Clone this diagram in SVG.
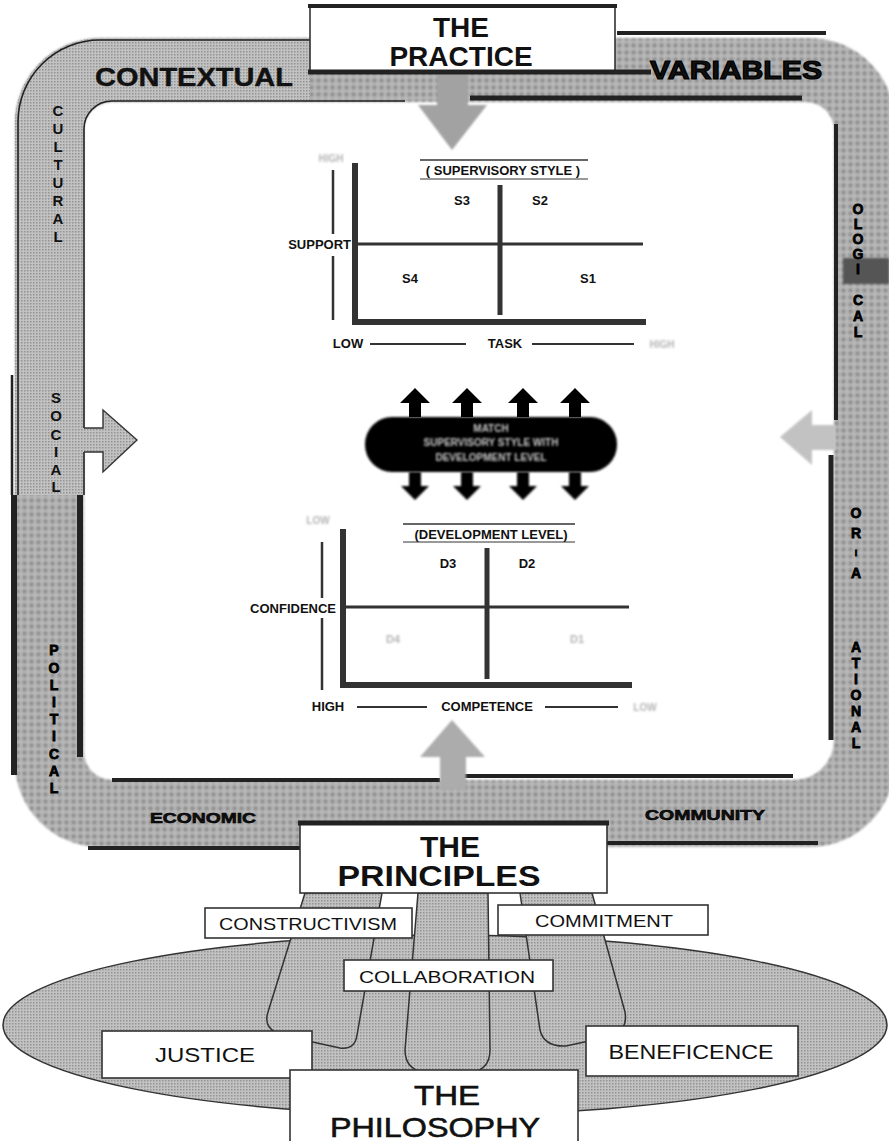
<svg xmlns="http://www.w3.org/2000/svg" width="889" height="1141" viewBox="0 0 889 1141">
<defs>
<pattern id="ht" width="7" height="7" patternUnits="userSpaceOnUse"><rect width="7" height="7" fill="#bababa"/><circle cx="3.5" cy="3.5" r="2.4" fill="#8e8e8e"/></pattern>
<pattern id="fine" width="3" height="3" patternUnits="userSpaceOnUse"><rect width="3" height="3" fill="#c2c2c2"/><rect width="1.5" height="1.5" fill="#939393"/></pattern>
<clipPath id="tl"><rect x="0" y="0" width="310" height="495"/></clipPath>
<filter id="blur" x="-20%" y="-50%" width="140%" height="200%"><feGaussianBlur stdDeviation="0.9"/></filter>
<filter id="soft" x="-20%" y="-20%" width="140%" height="140%"><feGaussianBlur stdDeviation="1.3"/></filter>
</defs>
<style>
.t{font-family:"Liberation Sans",Arial,Helvetica,sans-serif;fill:#111}
.b{font-weight:bold}
.bar{stroke:#222;fill:none;stroke-linecap:butt}
.box{fill:#fff;stroke:#333;stroke-width:1.6}
.vl{font-family:"Liberation Sans",Arial,sans-serif;font-weight:bold;font-size:15px;fill:#111;text-anchor:middle}
.vh{font-family:"Liberation Sans",Arial,sans-serif;font-weight:bold;font-size:14px;fill:#000;stroke:#000;stroke-width:0.8;text-anchor:middle}
.fade{fill:#b5b5b5;filter:url(#blur)}
.lbl{font-family:"Liberation Sans",Arial,sans-serif;font-weight:bold;font-size:13px;fill:#111}
.axis{stroke:#333;fill:none}
</style>
<rect width="889" height="1141" fill="#fff"/>

<!-- contextual variables band -->
<g id="context-band">
<path d="M100,38 H810 A85,85 0 0 1 895,123 V762 A85,85 0 0 1 810,847 H100 A85,85 0 0 1 15,762 V123 A85,85 0 0 1 100,38 Z M112,102 H806 A28,28 0 0 1 834,130 V740 A40,40 0 0 1 794,780 H112 A28,28 0 0 1 84,752 V130 A28,28 0 0 1 112,102 Z" fill="url(#ht)" fill-rule="evenodd" filter="url(#soft)"/>
<path clip-path="url(#tl)" d="M100,38 H810 A85,85 0 0 1 895,123 V762 A85,85 0 0 1 810,847 H100 A85,85 0 0 1 15,762 V123 A85,85 0 0 1 100,38 Z M112,102 H806 A28,28 0 0 1 834,130 V740 A40,40 0 0 1 794,780 H112 A28,28 0 0 1 84,752 V130 A28,28 0 0 1 112,102 Z" fill="url(#fine)" fill-rule="evenodd"/>
<path d="M310,40 H100 A82,82 0 0 0 18,122 V495" class="bar" stroke-width="1.6"/>
<path d="M405,101 H112 A28,28 0 0 0 84,129 V428 M84,452 V495" class="bar" stroke-width="1.6"/>
<line x1="12" y1="375" x2="12" y2="495" class="bar" stroke-width="2.5"/>
<line x1="14" y1="495" x2="14" y2="775" class="bar" stroke-width="6"/>
<line x1="80" y1="495" x2="80" y2="757" class="bar" stroke-width="6"/>
<line x1="617" y1="33" x2="826" y2="33" class="bar" stroke-width="4"/>
<line x1="470" y1="98" x2="802" y2="98" class="bar" stroke-width="5"/>
<line x1="836" y1="124" x2="836" y2="420" class="bar" stroke-width="4"/>
<line x1="831" y1="455" x2="831" y2="740" class="bar" stroke-width="5"/>
<line x1="112" y1="780" x2="440" y2="780" class="bar" stroke-width="4"/>
<line x1="460" y1="776" x2="793" y2="776" class="bar" stroke-width="4"/>
<line x1="88" y1="848" x2="300" y2="848" class="bar" stroke-width="4"/>
<line x1="607" y1="843" x2="818" y2="843" class="bar" stroke-width="4"/>
<rect x="843" y="258" width="46" height="26" fill="#555" filter="url(#soft)"/>
<text class="t b" x="95" y="86" font-size="25" textLength="198" lengthAdjust="spacingAndGlyphs" stroke="#111" stroke-width="0.4">CONTEXTUAL</text>
<text class="t b" x="650" y="79" font-size="25" textLength="172" lengthAdjust="spacingAndGlyphs" stroke="#000" stroke-width="1.2">VARIABLES</text>
<text class="vl" font-size="14"><tspan x="58" y="116">C</tspan><tspan x="58" y="134">U</tspan><tspan x="58" y="152">L</tspan><tspan x="58" y="170">T</tspan><tspan x="58" y="188">U</tspan><tspan x="58" y="206">R</tspan><tspan x="58" y="224">A</tspan><tspan x="58" y="242">L</tspan></text>
<text class="vl"><tspan x="56" y="403">S</tspan><tspan x="56" y="421">O</tspan><tspan x="56" y="440">C</tspan><tspan x="56" y="457">I</tspan><tspan x="56" y="475">A</tspan><tspan x="56" y="492">L</tspan></text>
<text class="vh"><tspan x="54" y="655">P</tspan><tspan x="54" y="673">O</tspan><tspan x="54" y="690">L</tspan><tspan x="54" y="707">I</tspan><tspan x="54" y="724">T</tspan><tspan x="54" y="741">I</tspan><tspan x="54" y="759">C</tspan><tspan x="54" y="776">A</tspan><tspan x="54" y="793">L</tspan></text>
<text class="vh" font-size="12"><tspan x="858" y="214">O</tspan><tspan x="858" y="229">L</tspan><tspan x="858" y="244">O</tspan><tspan x="858" y="259">G</tspan><tspan x="858" y="274">I</tspan><tspan x="858" y="305">C</tspan><tspan x="858" y="321">A</tspan><tspan x="858" y="337">L</tspan></text>
<text class="vh" font-size="13"><tspan x="856" y="518">O</tspan><tspan x="856" y="538">R</tspan><tspan x="856" y="556" font-size="9">I</tspan><tspan x="856" y="578">A</tspan><tspan x="856" y="652">A</tspan><tspan x="856" y="668">T</tspan><tspan x="856" y="684">I</tspan><tspan x="856" y="700">O</tspan><tspan x="856" y="716">N</tspan><tspan x="856" y="732">A</tspan><tspan x="856" y="748">L</tspan></text>
<text class="t b" x="150" y="823" font-size="15" textLength="106" lengthAdjust="spacingAndGlyphs" stroke="#000" stroke-width="0.6">ECONOMIC</text>
<text class="t b" x="645" y="820" font-size="15" textLength="120" lengthAdjust="spacingAndGlyphs" stroke="#000" stroke-width="0.6">COMMUNITY</text>
</g>

<!-- connectors (arrows) -->
<g id="connectors">
<path d="M437,72 H468 V105 H487 L452,150 L418,105 H437 Z" fill="#a2a2a2" filter="url(#soft)"/>
<path d="M84,428 H103 V410 L137,440 L103,472 V452 H84" fill="url(#fine)" stroke="#333" stroke-width="1.4"/>
<path d="M836,425 H812 V410 L780,437 L812,465 V450 H836" fill="#c2c2c2" filter="url(#soft)"/>
<path d="M440,790 V757 H420 L452,720 L485,757 H466 V790 Z" fill="#acacac" filter="url(#soft)"/>
</g>

<!-- The practice -->
<g id="practice">
<rect x="310" y="6" width="305" height="66" class="box" stroke="#222" stroke-width="2"/>
<line x1="308" y1="6" x2="617" y2="6" class="bar" stroke-width="4"/>
<line x1="308" y1="72" x2="651" y2="72" class="bar" stroke-width="5"/>
<text class="t b" x="461" y="37" font-size="28" text-anchor="middle">THE</text>
<text class="t b" x="461" y="66" font-size="28" text-anchor="middle">PRACTICE</text>
</g>

<!-- supervisory style chart -->
<g id="supervisory-style">
<path d="M355,163 V322 H646" class="axis" stroke-width="6"/>
<line x1="333" y1="170" x2="333" y2="234" class="axis" stroke-width="2.5"/>
<line x1="333" y1="256" x2="333" y2="320" class="axis" stroke-width="2.5"/>
<line x1="355" y1="244" x2="643" y2="244" class="axis" stroke-width="3"/>
<line x1="500" y1="185" x2="500" y2="315" class="axis" stroke-width="5"/>
<text class="t b fade" x="331" y="162" font-size="10" text-anchor="middle">HIGH</text>
<text class="lbl" x="351" y="249" text-anchor="end">SUPPORT</text>
<line x1="420" y1="160" x2="588" y2="160" class="axis" stroke-width="1.5"/>
<text class="lbl" x="503" y="175" text-anchor="middle" font-size="13">( SUPERVISORY STYLE )</text>
<line x1="420" y1="179" x2="588" y2="179" class="axis" stroke-width="1"/>
<text class="lbl" x="462" y="205" text-anchor="middle">S3</text>
<text class="lbl" x="540" y="205" text-anchor="middle">S2</text>
<text class="lbl" x="410" y="283" text-anchor="middle">S4</text>
<text class="lbl" x="588" y="283" text-anchor="middle">S1</text>
<text class="lbl" x="348" y="348" text-anchor="middle">LOW</text>
<line x1="370" y1="344" x2="466" y2="344" class="axis" stroke-width="1.8"/>
<text class="lbl" x="505" y="348" text-anchor="middle">TASK</text>
<line x1="532" y1="344" x2="634" y2="344" class="axis" stroke-width="1.8"/>
<text class="t b fade" x="662" y="348" font-size="10" text-anchor="middle">HIGH</text>
</g>

<!-- match pill -->
<g id="match">
<rect x="365" y="417" width="252" height="55" rx="27" fill="#000" filter="url(#blur)"/>
<g fill="#000">
<path d="M409,417 V403 H400 L415,388 L430,403 H421 V417 Z"/>
<path d="M461,417 V403 H452 L467,388 L482,403 H473 V417 Z"/>
<path d="M517,417 V403 H508 L523,388 L538,403 H529 V417 Z"/>
<path d="M569,417 V403 H560 L575,388 L590,403 H581 V417 Z"/>
</g>
<g fill="#000" filter="url(#blur)">
<path d="M409,472 V486 H401 L415,500 L429,486 H421 V472 Z"/>
<path d="M461,472 V486 H453 L467,500 L481,486 H473 V472 Z"/>
<path d="M517,472 V486 H509 L523,500 L537,486 H529 V472 Z"/>
<path d="M569,472 V486 H561 L575,500 L589,486 H581 V472 Z"/>
</g>
<g class="t b" font-size="10" text-anchor="middle" filter="url(#blur)">
<text x="491" y="432" fill="#c8c8c8">MATCH</text>
<text x="491" y="446" fill="#c8c8c8">SUPERVISORY STYLE WITH</text>
<text x="491" y="461" fill="#c8c8c8">DEVELOPMENT LEVEL</text>
</g>
</g>

<!-- development level chart -->
<g id="development-level">
<path d="M343,529 V685 H632" class="axis" stroke-width="6"/>
<line x1="322" y1="542" x2="322" y2="598" class="axis" stroke-width="2.5"/>
<line x1="322" y1="618" x2="322" y2="690" class="axis" stroke-width="2.5"/>
<line x1="343" y1="607" x2="629" y2="607" class="axis" stroke-width="3"/>
<line x1="487" y1="548" x2="487" y2="679" class="axis" stroke-width="5"/>
<text class="t b fade" x="318" y="524" font-size="10" text-anchor="middle">LOW</text>
<text class="lbl" x="336" y="613" text-anchor="end">CONFIDENCE</text>
<line x1="403" y1="524" x2="575" y2="524" class="axis" stroke-width="1.5"/>
<text class="lbl" x="491" y="539" text-anchor="middle">(DEVELOPMENT LEVEL)</text>
<line x1="403" y1="542" x2="575" y2="542" class="axis" stroke-width="1"/>
<text class="lbl" x="448" y="568" text-anchor="middle">D3</text>
<text class="lbl" x="527" y="568" text-anchor="middle">D2</text>
<text class="t b fade" x="393" y="643" font-size="11" text-anchor="middle">D4</text>
<text class="t b fade" x="577" y="643" font-size="11" text-anchor="middle">D1</text>
<text class="lbl" x="328" y="711" text-anchor="middle">HIGH</text>
<line x1="357" y1="707" x2="427" y2="707" class="axis" stroke-width="1.8"/>
<text class="lbl" x="487" y="711" text-anchor="middle">COMPETENCE</text>
<line x1="545" y1="707" x2="618" y2="707" class="axis" stroke-width="1.8"/>
<text class="t b fade" x="645" y="711" font-size="10" text-anchor="middle">LOW</text>
</g>

<!-- philosophy base -->
<g id="philosophy-base">
<ellipse cx="445" cy="1025" rx="442" ry="90" fill="url(#fine)" stroke="#333" stroke-width="1.5"/>
</g>
<g id="legs">
<path d="M305,893 L268,1012 Q262,1030 285,1036 L340,1048 Q355,1050 357,1035 L382,893 Z" fill="url(#fine)" stroke="#333" stroke-width="1.5"/>
<path d="M418,893 L405,1050 Q405,1072 430,1073 L466,1073 Q490,1072 490,1050 L488,893 Z" fill="url(#fine)" stroke="#333" stroke-width="1.5"/>
<path d="M520,893 L540,1030 Q544,1047 566,1046 L612,1036 Q628,1030 625,1012 L592,893 Z" fill="url(#fine)" stroke="#333" stroke-width="1.5"/>
</g>

<g id="principles">
<rect x="300" y="823" width="307" height="70" class="box" stroke="#222" stroke-width="2"/>
<line x1="298" y1="823" x2="609" y2="823" class="bar" stroke-width="5"/>
<text class="t b" x="450" y="857" font-size="29" text-anchor="middle" textLength="60" lengthAdjust="spacingAndGlyphs">THE</text>
<text class="t b" x="439" y="886" font-size="29" text-anchor="middle" textLength="203" lengthAdjust="spacingAndGlyphs">PRINCIPLES</text>
</g>

<g id="constructivism">
<rect x="205" y="908" width="207" height="30" class="box"/>
<text class="t" x="308" y="930" font-size="17" text-anchor="middle" textLength="178" lengthAdjust="spacingAndGlyphs">CONSTRUCTIVISM</text>
</g>
<g id="commitment">
<rect x="498" y="905" width="210" height="30" class="box"/>
<text class="t" x="604" y="927" font-size="17" text-anchor="middle" textLength="138" lengthAdjust="spacingAndGlyphs">COMMITMENT</text>
</g>
<g id="collaboration">
<rect x="344" y="960" width="209" height="31" class="box"/>
<text class="t" x="447" y="983" font-size="17" text-anchor="middle" textLength="176" lengthAdjust="spacingAndGlyphs">COLLABORATION</text>
</g>
<g id="justice">
<rect x="102" y="1031" width="210" height="47" class="box"/>
<text class="t" x="205" y="1062" font-size="21" text-anchor="middle" textLength="100" lengthAdjust="spacingAndGlyphs">JUSTICE</text>
</g>
<g id="beneficence">
<rect x="586" y="1026" width="212" height="50" class="box"/>
<text class="t" x="691" y="1059" font-size="21" text-anchor="middle" textLength="165" lengthAdjust="spacingAndGlyphs">BENEFICENCE</text>
</g>
<g id="philosophy">
<rect x="290" y="1070" width="288" height="80" class="box" stroke-width="2"/>
<text class="t" x="447" y="1105" font-size="28" text-anchor="middle" stroke="#111" stroke-width="0.6" textLength="66" lengthAdjust="spacingAndGlyphs">THE</text>
<text class="t" x="435" y="1137" font-size="28" text-anchor="middle" stroke="#111" stroke-width="0.6" textLength="210" lengthAdjust="spacingAndGlyphs">PHILOSOPHY</text>
</g>
</svg>
